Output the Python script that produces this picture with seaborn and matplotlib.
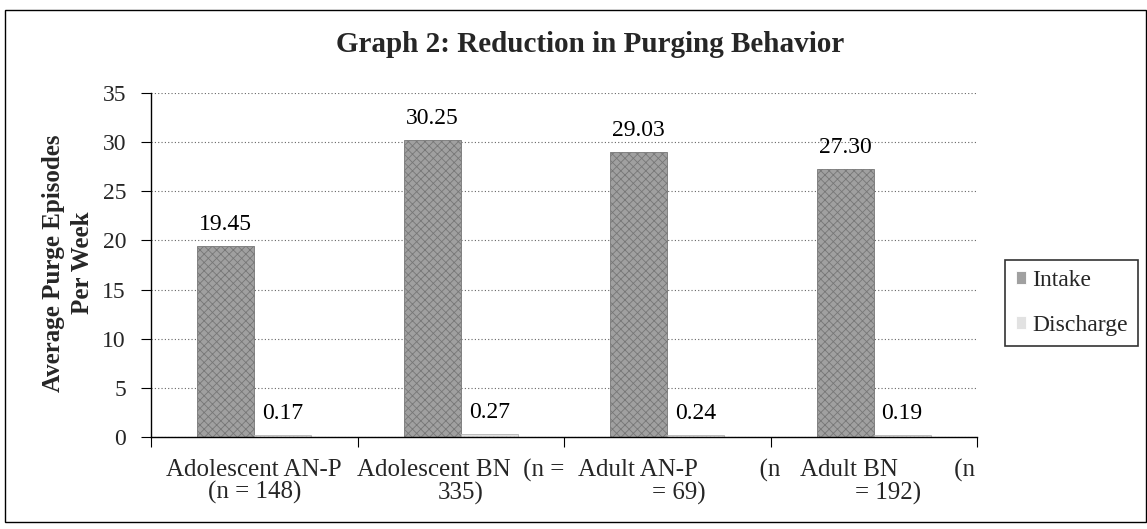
import matplotlib
matplotlib.use("Agg")
import matplotlib.pyplot as plt
from matplotlib import transforms
from matplotlib.patches import Rectangle
import seaborn as sns
import pandas as pd

# ---- data ----
groups = ["Adolescent AN-P (n = 148)", "Adolescent BN (n = 335)",
          "Adult AN-P (n = 69)", "Adult BN (n = 192)"]
tick_labels = ["Adolescent AN-P\n(n = 148)",
               "Adolescent BN  (n =\n335)",
               "Adult AN-P          (n\n= 69)",
               "Adult BN         (n\n= 192)"]
intake = [19.45, 30.25, 29.03, 27.30]
discharge = [0.17, 0.27, 0.24, 0.19]
series = ["Intake", "Discharge"]
yticks = [0, 5, 10, 15, 20, 25, 30, 35]
title = "Graph 2: Reduction in Purging Behavior"
ylabel = "Average Purge Episodes\nPer Week"

df = pd.DataFrame({
    "group": groups + groups,
    "phase": [series[0]] * len(groups) + [series[1]] * len(groups),
    "value": intake + discharge,
})

sns.set_theme(style="white")
plt.rcParams['font.family'] = ['Liberation Serif', 'DejaVu Serif']
plt.rcParams['hatch.linewidth'] = 0.6

W, H = 1147, 529
fig = plt.figure(figsize=(W / 100, H / 100), dpi=100)
ax = fig.add_axes([151 / W, 1 - 437 / H, (977 - 151) / W, (437 - 93) / H])

sns.barplot(data=df, x="group", y="value", hue="phase", order=groups,
            hue_order=series, palette={"Intake": "#a0a0a0", "Discharge": "#e2e2e2"},
            saturation=1, width=0.55, ax=ax, linewidth=0.6)

styles = [("xxxx", "#777777"), ("....", "#b5b5b5")]
for cont, (hatch, ec) in zip(ax.containers, styles):
    for p in cont:
        p.set_hatch(hatch)
        p.set_edgecolor(ec)
    ax.bar_label(cont, fmt="%.2f", padding=8, fontsize=17, color="black")

ax.set_xlim(-0.5, len(groups) - 0.5)
ax.set_ylim(0, 35)
ax.set_yticks(yticks)
ax.set_xlabel("")
ax.set_ylabel("")

# grid
ax.yaxis.grid(True, color="#666666", linestyle=(0, (1, 2)), linewidth=0.8)
ax.xaxis.grid(False)
ax.set_axisbelow(True)

for s in ["top", "right"]:
    ax.spines[s].set_visible(False)
for s in ["left", "bottom"]:
    ax.spines[s].set_color("black")
    ax.spines[s].set_linewidth(1.0)

ax.tick_params(axis="y", direction="out", length=7, width=0.8, color="black",
               pad=11, labelsize=17, left=True)
ax.set_xticks(range(len(groups)))
ax.set_xticklabels(tick_labels, fontsize=18, linespacing=1.0)
ax.tick_params(axis="x", which="major", length=0, pad=16)
ax.set_xticks([i - 0.5 for i in range(len(groups) + 1)], minor=True)
ax.tick_params(axis="x", which="minor", direction="out", length=7, width=0.8,
               color="black", bottom=True)

# shift wrapped labels like the original
offsets_px = [0, 0, 12, 14]
for lab, dx in zip(ax.get_xticklabels(), offsets_px):
    lab.set_transform(lab.get_transform() +
                      transforms.ScaledTranslation(dx / 100, 0, fig.dpi_scale_trans))

# legend
leg = ax.legend(loc="center left", bbox_to_anchor=(1005 / W, 1 - 303 / H),
                bbox_transform=fig.transFigure, fontsize=17, frameon=True,
                fancybox=False, edgecolor="black", handlelength=0.45,
                handleheight=0.45, handletextpad=0.25, labelspacing=1.0,
                borderpad=0.45, borderaxespad=0)
leg.get_frame().set_linewidth(1.2)

# title and y label
fig.text(590 / W, 1 - 45 / H, title, ha="center", va="center",
         fontsize=21, fontweight="bold")
fig.text(68 / W, 1 - 263 / H, ylabel, ha="center", va="center", rotation=90,
         fontsize=18, fontweight="bold", linespacing=1.3, multialignment="center")

# outer chart frame
fig.add_artist(Rectangle((5 / W, 1 - 522 / H), (1146 - 5) / W, (522 - 10) / H,
                         transform=fig.transFigure, fill=False, lw=1.0,
                         ec="black"))

fig.savefig("out.png", dpi=100, facecolor="white")
